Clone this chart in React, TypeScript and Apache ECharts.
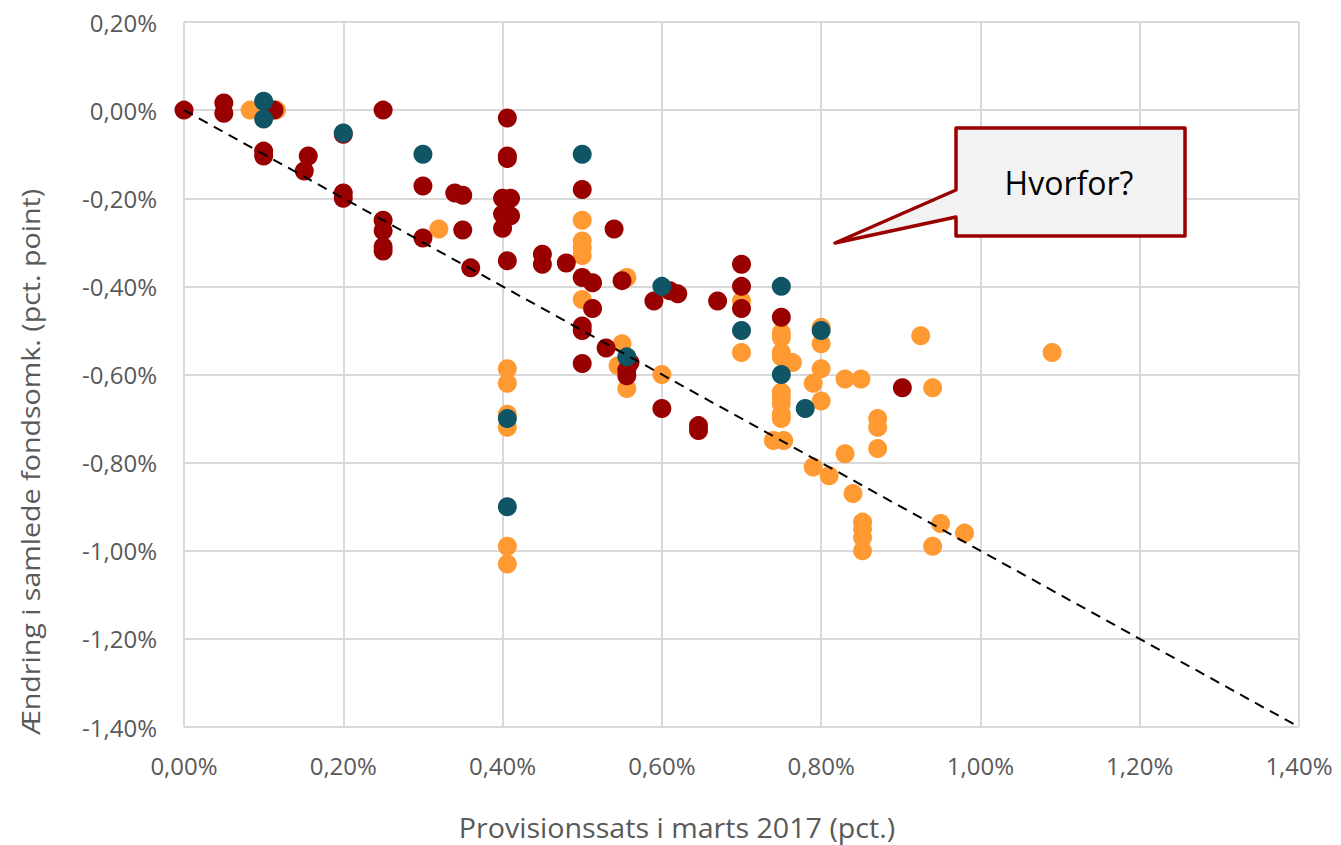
import React, { useEffect, useRef } from "react";
import * as echarts from "echarts";

// Orange funds
const orangeX = [0.083, 0.116, 0.32, 0.50, 0.50, 0.50, 0.50, 0.556, 0.50, 0.55, 0.545, 0.556, 0.60, 0.406, 0.406, 0.406, 0.406, 0.406, 0.406, 0.70, 0.70, 0.75, 0.75, 0.75, 0.75, 0.764, 0.75, 0.75, 0.75, 0.75, 0.75, 0.74, 0.753, 0.80, 0.80, 0.80, 0.79, 0.80, 0.83, 0.85, 0.94, 0.925, 0.871, 0.871, 0.871, 0.83, 0.79, 0.81, 0.84, 0.852, 0.852, 0.852, 0.852, 0.95, 0.98, 0.94, 1.09];
const orangeY = [0, 0, -0.27, -0.25, -0.297, -0.313, -0.33, -0.38, -0.43, -0.53, -0.58, -0.632, -0.60, -0.587, -0.62, -0.69, -0.72, -0.99, -1.03, -0.433, -0.55, -0.505, -0.516, -0.55, -0.56, -0.573, -0.64, -0.652, -0.666, -0.69, -0.70, -0.75, -0.75, -0.493, -0.53, -0.587, -0.62, -0.66, -0.61, -0.61, -0.63, -0.512, -0.70, -0.72, -0.768, -0.78, -0.81, -0.83, -0.87, -0.935, -0.95, -0.97, -1.0, -0.938, -0.96, -0.99, -0.55];

// Dark red funds
const redX = [0, 0.05, 0.05, 0.113, 0.10, 0.10, 0.151, 0.156, 0.20, 0.20, 0.20, 0.25, 0.25, 0.25, 0.25, 0.25, 0.30, 0.30, 0.34, 0.35, 0.35, 0.36, 0.40, 0.41, 0.406, 0.406, 0.406, 0.40, 0.41, 0.40, 0.406, 0.45, 0.45, 0.48, 0.50, 0.54, 0.50, 0.513, 0.513, 0.50, 0.50, 0.53, 0.50, 0.55, 0.56, 0.556, 0.556, 0.59, 0.62, 0.61, 0.67, 0.60, 0.646, 0.646, 0.70, 0.70, 0.70, 0.75, 0.902];
const redY = [0, 0.016, -0.007, 0, -0.093, -0.104, -0.138, -0.104, -0.055, -0.188, -0.20, 0, -0.25, -0.274, -0.31, -0.32, -0.172, -0.29, -0.188, -0.193, -0.272, -0.358, -0.20, -0.20, -0.018, -0.104, -0.11, -0.236, -0.24, -0.268, -0.342, -0.327, -0.35, -0.347, -0.18, -0.27, -0.38, -0.392, -0.45, -0.49, -0.50, -0.54, -0.575, -0.387, -0.573, -0.59, -0.603, -0.433, -0.417, -0.41, -0.433, -0.677, -0.716, -0.727, -0.35, -0.40, -0.45, -0.47, -0.63];

// Teal funds
const tealX = [0.10, 0.10, 0.20, 0.30, 0.50, 0.60, 0.556, 0.406, 0.406, 0.70, 0.75, 0.75, 0.78, 0.80];
const tealY = [0.02, -0.02, -0.052, -0.10, -0.10, -0.40, -0.56, -0.70, -0.90, -0.50, -0.40, -0.60, -0.677, -0.50];

// Reference line
const lineX = [0, 1.4];
const lineY = [0, -1.4];

const xTicks = { min: 0, max: 1.4, interval: 0.2 };
const yTicks = { min: -1.4, max: 0.2, interval: 0.2 };

const xTitle = "Provisionssats i marts 2017 (pct.)";
const yTitle = "Ændring i samlede fondsomk. (pct. point)";
const calloutText = "Hvorfor?";

const pairs = (xs: number[], ys: number[]) => xs.map((x, i) => [x, ys[i]]);

const fmt = (v: number) => {
  const s = Math.abs(v) < 1e-9 ? "0.00" : v.toFixed(2);
  return s.replace(".", ",") + "%";
};

const FONT = "'Open Sans', sans-serif";
const GRAY = "#595959";

export default function App() {
  const ref = useRef<HTMLDivElement>(null);
  useEffect(() => {
    if (!ref.current) return;
    const chart = echarts.init(ref.current, null, { renderer: "svg" });
    const scatterBase = {
      type: "scatter",
      symbol: "circle",
      symbolSize: 19,
    };
    chart.setOption({
      animation: false,
      backgroundColor: "#ffffff",
      grid: { left: 184, right: 42, top: 22, bottom: 118, containLabel: false },
      xAxis: {
        type: "value",
        min: xTicks.min,
        max: xTicks.max,
        interval: xTicks.interval,
        axisLine: { show: true, lineStyle: { color: "#d9d9d9", width: 2 } },
        axisTick: { show: false },
        axisLabel: { formatter: fmt, color: GRAY, fontFamily: FONT, fontSize: 24, margin: 26 },
        splitLine: { show: true, lineStyle: { color: "#d9d9d9", width: 2 } },
      },
      yAxis: {
        type: "value",
        min: yTicks.min,
        max: yTicks.max,
        interval: yTicks.interval,
        axisLine: { show: false },
        axisTick: { show: false },
        axisLabel: { formatter: fmt, color: GRAY, fontFamily: FONT, fontSize: 24, margin: 27 },
        splitLine: { show: true, lineStyle: { color: "#d9d9d9", width: 2 } },
      },
      series: [
        {
          type: "line",
          data: pairs(lineX, lineY),
          showSymbol: false,
          symbol: "none",
          lineStyle: { color: "#000000", width: 2, type: [10, 7] },
          z: 5,
          silent: true,
        },
        { ...scatterBase, name: "orange", data: pairs(orangeX, orangeY), itemStyle: { color: "#FF9A33", opacity: 1 }, z: 2 },
        { ...scatterBase, name: "red", data: pairs(redX, redY), itemStyle: { color: "#990000", opacity: 1 }, z: 3 },
        { ...scatterBase, name: "teal", data: pairs(tealX, tealY), itemStyle: { color: "#0F5566", opacity: 1 }, z: 4 },
      ],
      graphic: [
        {
          type: "text",
          x: 677,
          y: 827,
          scaleX: 1.06,
          style: { text: xTitle, fill: GRAY, font: `27px ${FONT}`, textAlign: "center", textVerticalAlign: "middle" },
        },
        {
          type: "text",
          x: 30,
          y: 462,
          rotation: Math.PI / 2,
          scaleX: 1.1,
          style: { text: yTitle, fill: GRAY, font: `26px ${FONT}`, textAlign: "center", textVerticalAlign: "middle" },
        },
        {
          type: "polygon",
          shape: {
            points: [
              [956, 128],
              [1185, 128],
              [1185, 236],
              [956, 236],
              [956, 217],
              [835, 243],
              [956, 190],
            ],
          },
          style: { fill: "#f2f2f2", stroke: "#990000", lineWidth: 3.5, lineJoin: "round" },
          z: 10,
        },
        {
          type: "text",
          x: 1069,
          y: 182,
          z: 11,
          style: { text: calloutText, fill: "#000000", font: `32px ${FONT}`, textAlign: "center", textVerticalAlign: "middle" },
        },
      ],
    });
    return () => chart.dispose();
  }, []);
  return <div ref={ref} style={{ position: "absolute", left: 0, top: 0, width: 1341, height: 845 }} />;
}
